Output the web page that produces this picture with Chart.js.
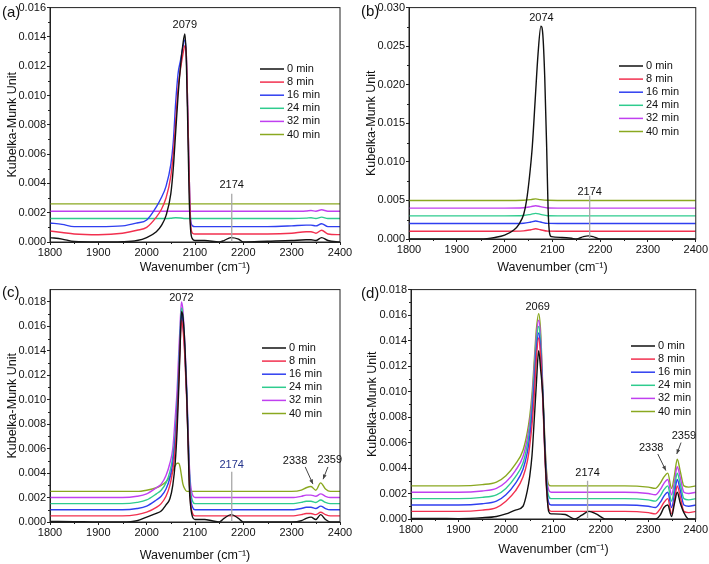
<!DOCTYPE html>
<html>
<head>
<meta charset="utf-8">
<script src="https://cdn.jsdelivr.net/npm/chart.js@4.4.1/dist/chart.umd.min.js"></script>
<style>
  body { margin: 0; background: #fff; }
  .panel { position: absolute; }
</style>
</head>
<body>
<div class="panel" style="left:0;top:0"><canvas id="chartA" width="354" height="282"></canvas></div>
<div class="panel" style="left:354px;top:0"><canvas id="chartB" width="355" height="282"></canvas></div>
<div class="panel" style="left:0;top:282px"><canvas id="chartC" width="354" height="282"></canvas></div>
<div class="panel" style="left:354px;top:282px"><canvas id="chartD" width="355" height="282"></canvas></div>
<script>
const seriesNames = ['0 min', '8 min', '16 min', '24 min', '32 min', '40 min'];
const seriesColors = ['#111111', '#f2304f', '#2f3ff0', '#2ecc8e', '#c040f0', '#8aa820'];
const xTicks = [1800, 1900, 2000, 2100, 2200, 2300, 2400];

// panel (a)
const wnA = [1800, 1825, 1850, 1900, 1950, 1980, 2000, 2020, 2030, 2040, 2050, 2055, 2060, 2065, 2070, 2075, 2079, 2082, 2085, 2088, 2091, 2095, 2100, 2120, 2150, 2160, 2174, 2190, 2200, 2250, 2300, 2330, 2340, 2350, 2362, 2375, 2400];
const a0 = [0.0003, 0.0002, 0.00003, 0, 0.00002, 0.0001, 0.0003, 0.0007, 0.0011, 0.0018, 0.0033, 0.005, 0.0075, 0.01, 0.012, 0.0135, 0.0142, 0.0125, 0.008, 0.003, 0.0008, 0.0002, 0.0001, 0.0001, 0, 0.0001, 0.0003, 0.0002, 0, 0.00005, 0.0001, 0.00015, 0.00015, 0.0001, 0.0003, 0.0001, 0];
const a8 = [0.00075, 0.00065, 0.00055, 0.0005, 0.0006, 0.0008, 0.001, 0.0017, 0.0022, 0.003, 0.0045, 0.006, 0.0082, 0.0105, 0.0118, 0.0128, 0.0134, 0.0128, 0.009, 0.0045, 0.0012, 0.0006, 0.00055, 0.00055, 0.00055, 0.00055, 0.00055, 0.00055, 0.00055, 0.00055, 0.0006, 0.0007, 0.0007, 0.0006, 0.0008, 0.00055, 0.0005];
const a16 = [0.0013, 0.0012, 0.00105, 0.00105, 0.0011, 0.0013, 0.0015, 0.0024, 0.003, 0.0038, 0.0053, 0.0068, 0.0095, 0.0115, 0.0124, 0.0133, 0.0138, 0.0128, 0.009, 0.0045, 0.0015, 0.0011, 0.00105, 0.00105, 0.00105, 0.00105, 0.00105, 0.00105, 0.00105, 0.00105, 0.0011, 0.00115, 0.00115, 0.0011, 0.00125, 0.00105, 0.00105];
const wnA24 = [1800, 2000, 2040, 2050, 2060, 2070, 2080, 2100, 2300, 2330, 2340, 2350, 2362, 2375, 2400];
const a24 = [0.0016, 0.0016, 0.0016, 0.00162, 0.00166, 0.00164, 0.0016, 0.0016, 0.0016, 0.00163, 0.00166, 0.0016, 0.0017, 0.0016, 0.0016];
const wnA32 = [1800, 2300, 2330, 2340, 2350, 2362, 2375, 2400];
const a32 = [0.0021, 0.0021, 0.00212, 0.00215, 0.0021, 0.0022, 0.0021, 0.0021];
const wnA40 = [1800, 2400];
const a40 = [0.0026, 0.0026];

// panel (b)
const wnB = [1800, 1850, 1900, 1950, 1980, 2000, 2020, 2030, 2040, 2046, 2052, 2058, 2064, 2070, 2076, 2080, 2084, 2088, 2091, 2094, 2098, 2120, 2140, 2150, 2165, 2175, 2185, 2200, 2250, 2300, 2350, 2400];
const b0 = [0, 0, 0, 0, 0.0002, 0.0005, 0.0012, 0.0019, 0.0032, 0.005, 0.008, 0.012, 0.018, 0.024, 0.0276, 0.0265, 0.021, 0.012, 0.004, 0.0008, 0.0003, 0.0002, 0.0001, 0, 0.0003, 0.0004, 0.0003, 0, 0, 0, 0, 0];
const wnBflat = [1800, 2000, 2040, 2055, 2065, 2075, 2090, 2120, 2400];
const b8 = [0.001, 0.001, 0.00105, 0.0012, 0.00133, 0.0012, 0.00102, 0.001, 0.001];
const b16 = [0.002, 0.002, 0.00205, 0.0022, 0.00233, 0.0022, 0.00202, 0.002, 0.002];
const b24 = [0.003, 0.003, 0.00305, 0.0032, 0.00332, 0.0032, 0.00302, 0.003, 0.003];
const b32 = [0.004, 0.004, 0.00405, 0.0042, 0.00432, 0.0042, 0.00402, 0.004, 0.004];
const b40 = [0.005, 0.005, 0.00503, 0.0051, 0.0052, 0.0051, 0.00502, 0.005, 0.005];

// panel (c)
const wnC = [1800, 1850, 1900, 1950, 1980, 2000, 2020, 2030, 2040, 2048, 2054, 2059, 2063, 2066, 2069, 2072, 2075, 2079, 2083, 2086, 2088, 2091, 2095, 2100, 2120, 2135, 2150, 2160, 2175, 2190, 2200, 2250, 2300, 2320, 2330, 2340, 2350, 2360, 2370, 2380, 2400];
const c0 = [0.00005, 0.00003, 0, 0, 0.0001, 0.0004, 0.0007, 0.0009, 0.0014, 0.0019, 0.003, 0.0048, 0.0075, 0.0105, 0.014, 0.0172, 0.0168, 0.0145, 0.0102, 0.006, 0.003, 0.0013, 0.0004, 0.0002, 0.0002, 0.0001, 0, 0.0003, 0.0006, 0.0003, 0, 0, 0, 0.0001, 0.0003, 0.0004, 0.0002, 0.0006, 0.0002, 0, 0];
const c8 = [0.0005, 0.0005, 0.0005, 0.0005, 0.0006, 0.0008, 0.0012, 0.0015, 0.0021, 0.003, 0.0042, 0.006, 0.0085, 0.0112, 0.0142, 0.0165, 0.0158, 0.0135, 0.0098, 0.0062, 0.0036, 0.0015, 0.0007, 0.0005, 0.0005, 0.0005, 0.0005, 0.0005, 0.0005, 0.0005, 0.0005, 0.0005, 0.0005, 0.0006, 0.0007, 0.0007, 0.0006, 0.0008, 0.0006, 0.0005, 0.0005];
const c16 = [0.001, 0.001, 0.001, 0.001, 0.0011, 0.0013, 0.0018, 0.0021, 0.0027, 0.0036, 0.0048, 0.0067, 0.0092, 0.0118, 0.0148, 0.017, 0.0164, 0.0138, 0.0102, 0.0066, 0.0042, 0.002, 0.0012, 0.001, 0.001, 0.001, 0.001, 0.001, 0.001, 0.001, 0.001, 0.001, 0.001, 0.0011, 0.0012, 0.0012, 0.0011, 0.0013, 0.0011, 0.001, 0.001];
const c24 = [0.0015, 0.0015, 0.0015, 0.0015, 0.0016, 0.0018, 0.0023, 0.0026, 0.0032, 0.0041, 0.0053, 0.0072, 0.0097, 0.0123, 0.0153, 0.0175, 0.0168, 0.0141, 0.0105, 0.0069, 0.0046, 0.0025, 0.0017, 0.0015, 0.0015, 0.0015, 0.0015, 0.0015, 0.0015, 0.0015, 0.0015, 0.0015, 0.0015, 0.0016, 0.0017, 0.0017, 0.0016, 0.0018, 0.0016, 0.0015, 0.0015];
const c32 = [0.002, 0.002, 0.002, 0.002, 0.0021, 0.0023, 0.0028, 0.0031, 0.0038, 0.0048, 0.006, 0.0085, 0.0108, 0.0135, 0.016, 0.018, 0.0173, 0.0145, 0.011, 0.0072, 0.0049, 0.003, 0.0022, 0.002, 0.002, 0.002, 0.002, 0.002, 0.002, 0.002, 0.002, 0.002, 0.002, 0.0021, 0.0022, 0.0022, 0.0021, 0.0023, 0.0021, 0.002, 0.002];
const c40 = [0.0025, 0.0025, 0.0025, 0.0025, 0.0025, 0.0026, 0.0028, 0.003, 0.0033, 0.0037, 0.0042, 0.0046, 0.0048, 0.0048, 0.0045, 0.0038, 0.0031, 0.0027, 0.0025, 0.0025, 0.0025, 0.0025, 0.0025, 0.0025, 0.0025, 0.0025, 0.0025, 0.0025, 0.0025, 0.0025, 0.0025, 0.0025, 0.0025, 0.0026, 0.0028, 0.0029, 0.0026, 0.0032, 0.0027, 0.0025, 0.0025];

// panel (d)
const wnD = [1800, 1850, 1900, 1950, 1980, 2000, 2020, 2036, 2045, 2050, 2055, 2060, 2064, 2069, 2073, 2078, 2082, 2086, 2090, 2095, 2100, 2125, 2145, 2160, 2175, 2190, 2210, 2250, 2300, 2315, 2325, 2333, 2341, 2349, 2355, 2361, 2367, 2375, 2385, 2400];
const d0 = [0.00005, 0.00005, 0.00003, 0.0001, 0.0002, 0.0004, 0.0007, 0.001, 0.0022, 0.0033, 0.005, 0.008, 0.0105, 0.0132, 0.0118, 0.0095, 0.0055, 0.0023, 0.0006, 0.0004, 0.0004, 0.00035, 0, 0.0003, 0.0006, 0.0004, 0, 0, 0, 0, 0.0003, 0.0009, 0.0011, 0.0002, 0.0012, 0.0021, 0.0013, 0.0005, 0, 0];
const d8 = [0.0006, 0.0006, 0.0006, 0.0007, 0.0009, 0.0014, 0.0022, 0.0033, 0.0045, 0.0057, 0.0074, 0.0099, 0.0125, 0.0142, 0.0128, 0.009, 0.005, 0.0021, 0.0008, 0.0006, 0.0006, 0.0006, 0.0006, 0.0006, 0.0006, 0.0006, 0.0006, 0.0006, 0.0005, 0.0004, 0.0008, 0.0013, 0.0016, 0.0004, 0.0014, 0.0026, 0.0018, 0.0006, 0.0005, 0.0006];
const d16 = [0.0011, 0.0011, 0.0011, 0.0012, 0.0014, 0.0019, 0.0028, 0.0039, 0.0052, 0.0064, 0.0082, 0.0108, 0.0132, 0.0146, 0.0133, 0.0094, 0.0053, 0.0025, 0.0013, 0.0011, 0.0011, 0.0011, 0.0011, 0.0011, 0.0011, 0.0011, 0.0011, 0.0011, 0.001, 0.0009, 0.0013, 0.0018, 0.0021, 0.0009, 0.0019, 0.0031, 0.0023, 0.0011, 0.001, 0.0011];
const d24 = [0.0016, 0.0016, 0.0016, 0.0017, 0.0019, 0.0024, 0.0033, 0.0044, 0.0058, 0.007, 0.0088, 0.0115, 0.0138, 0.0151, 0.0138, 0.0096, 0.0056, 0.0029, 0.0018, 0.0016, 0.0016, 0.0016, 0.0016, 0.0016, 0.0016, 0.0016, 0.0016, 0.0016, 0.0015, 0.0014, 0.0018, 0.0023, 0.0026, 0.0014, 0.0024, 0.0036, 0.0028, 0.0016, 0.0015, 0.0016];
const d32 = [0.0021, 0.0021, 0.0021, 0.0022, 0.0024, 0.0029, 0.0038, 0.0049, 0.0063, 0.0075, 0.0093, 0.0121, 0.0143, 0.0156, 0.0143, 0.0098, 0.0059, 0.0033, 0.0023, 0.0021, 0.0021, 0.0021, 0.0021, 0.0021, 0.0021, 0.0021, 0.0021, 0.0021, 0.002, 0.0019, 0.0023, 0.0028, 0.0031, 0.0019, 0.0029, 0.0041, 0.0033, 0.0021, 0.002, 0.0021];
const d40 = [0.0026, 0.0026, 0.0026, 0.0027, 0.0029, 0.0034, 0.0043, 0.0054, 0.0068, 0.008, 0.0098, 0.0126, 0.0148, 0.0161, 0.0148, 0.01, 0.0062, 0.0036, 0.0027, 0.0026, 0.0026, 0.0026, 0.0026, 0.0026, 0.0026, 0.0026, 0.0026, 0.0026, 0.0025, 0.0024, 0.0028, 0.0033, 0.0036, 0.0024, 0.0034, 0.0047, 0.0038, 0.0026, 0.0025, 0.0026];

const FONT = "'Liberation Sans', Arial, sans-serif";
const AXIS = '#222222';

function pts(xs, ys) {
  return xs.map((x, i) => ({ x: x, y: ys[i] }));
}

// frame, minor ticks, legend and peak labels
const decor = {
  id: 'decor',
  afterDraw(chart, args, opts) {
    const ctx = chart.ctx;
    const ca = chart.chartArea;
    const xs = chart.scales.x;
    const ys = chart.scales.y;
    ctx.save();

    ctx.strokeStyle = AXIS;
    ctx.lineWidth = 1;
    ctx.strokeRect(ca.left, ca.top, ca.right - ca.left, ca.bottom - ca.top);

    // minor ticks
    ctx.beginPath();
    for (let v = xs.min + 50; v < xs.max; v += 100) {
      const px = Math.round(xs.getPixelForValue(v)) + 0.5;
      ctx.moveTo(px, ca.bottom);
      ctx.lineTo(px, ca.bottom + 2);
    }
    for (let v = opts.yMinor / 2; v < ys.max; v += opts.yMinor) {
      const py = Math.round(ys.getPixelForValue(v)) + 0.5;
      ctx.moveTo(ca.left, py);
      ctx.lineTo(ca.left - 2, py);
    }
    ctx.stroke();

    // legend
    ctx.font = '11px ' + FONT;
    ctx.textBaseline = 'middle';
    ctx.textAlign = 'left';
    chart.data.datasets.forEach((ds, i) => {
      const y = opts.legend.y + i * 13.1;
      ctx.strokeStyle = ds.borderColor;
      ctx.lineWidth = 1.5;
      ctx.beginPath();
      ctx.moveTo(opts.legend.x, y);
      ctx.lineTo(opts.legend.x + 24, y);
      ctx.stroke();
      ctx.fillStyle = '#111';
      ctx.fillText(ds.label, opts.legend.x + 27, y);
    });

    // gray marker lines
    ctx.strokeStyle = '#a8a8a8';
    ctx.lineWidth = 1.3;
    opts.vlines.forEach(l => {
      const px = xs.getPixelForValue(l.x);
      ctx.beginPath();
      ctx.moveTo(px, ys.getPixelForValue(l.y1));
      ctx.lineTo(px, ys.getPixelForValue(l.y2));
      ctx.stroke();
    });

    // arrows
    ctx.strokeStyle = '#444';
    ctx.fillStyle = '#444';
    ctx.lineWidth = 1;
    opts.arrows.forEach(a => {
      const x1 = xs.getPixelForValue(a.x1), y1 = ys.getPixelForValue(a.y1);
      const x2 = xs.getPixelForValue(a.x2), y2 = ys.getPixelForValue(a.y2);
      const ang = Math.atan2(y2 - y1, x2 - x1);
      ctx.beginPath();
      ctx.moveTo(x1, y1);
      ctx.lineTo(x2, y2);
      ctx.stroke();
      ctx.beginPath();
      ctx.moveTo(x2, y2);
      ctx.lineTo(x2 - 5 * Math.cos(ang - 0.4), y2 - 5 * Math.sin(ang - 0.4));
      ctx.lineTo(x2 - 5 * Math.cos(ang + 0.4), y2 - 5 * Math.sin(ang + 0.4));
      ctx.closePath();
      ctx.fill();
    });

    // peak labels
    ctx.textAlign = 'center';
    opts.labels.forEach(l => {
      ctx.fillStyle = l.color || '#111';
      ctx.fillText(l.text, xs.getPixelForValue(l.x), ys.getPixelForValue(l.y));
    });

    // panel letter
    ctx.font = '15px ' + FONT;
    ctx.textAlign = 'left';
    ctx.fillStyle = '#111';
    ctx.fillText(opts.letter.text, opts.letter.x, opts.letter.y);

    ctx.restore();
  }
};

function makePanel(id, panel) {
  const datasets = panel.series.map((s, i) => ({
    label: seriesNames[i],
    data: pts(s[0], s[1]),
    borderColor: seriesColors[i],
    borderWidth: 1.4,
    pointRadius: 0,
    cubicInterpolationMode: 'monotone',
    fill: false
  }));

  const ctx = document.getElementById(id).getContext('2d');
  return new Chart(ctx, {
    type: 'line',
    data: { datasets: datasets },
    options: {
      responsive: false,
      animation: false,
      layout: { padding: { left: 0, right: panel.padRight, top: 6, bottom: 0 } },
      plugins: {
        legend: { display: false },
        tooltip: { enabled: false },
        decor: panel.decor
      },
      scales: {
        x: {
          type: 'linear',
          min: 1800,
          max: 2400,
          afterBuildTicks: scale => { scale.ticks = xTicks.map(v => ({ value: v })); },
          afterFit: scale => { scale.height = panel.xHeight; },
          grid: { drawOnChartArea: false, tickLength: 3, color: AXIS, tickColor: AXIS },
          border: { color: AXIS },
          ticks: { font: { family: FONT, size: 11 }, color: '#111', padding: 1, maxRotation: 0, callback: v => String(v) },
          title: { display: true, text: 'Wavenumber (cm\u207B\u00B9)', font: { family: FONT, size: 12.5 }, color: '#111', padding: { top: 0, bottom: panel.xTitlePad } }
        },
        y: {
          min: 0,
          max: panel.yMax,
          afterFit: scale => { scale.width = panel.yWidth; },
          grid: { drawOnChartArea: false, tickLength: 3, color: AXIS, tickColor: AXIS },
          border: { color: AXIS },
          ticks: { stepSize: panel.yStep, includeBounds: false, font: { family: FONT, size: 11 }, color: '#111', padding: 1, callback: v => v.toFixed(3) },
          title: { display: true, text: 'Kubelka-Munk Unit', font: { family: FONT, size: 12.5 }, color: '#111', padding: { top: panel.yTitlePad, bottom: 0 } }
        }
      }
    },
    plugins: [decor]
  });
}

document.addEventListener('DOMContentLoaded', function () {

  makePanel('chartA', {
    series: [[wnA, a0], [wnA, a8], [wnA, a16], [wnA24, a24], [wnA32, a32], [wnA40, a40]],
    yMax: 0.016, yStep: 0.002, yWidth: 50, padRight: 14, xHeight: 40, xTitlePad: 7, yTitlePad: 5,
    decor: {
      yMinor: 0.002,
      legend: { x: 260, y: 69 },
      letter: { text: '(a)', x: 2, y: 13 },
      labels: [{ text: '2079', x: 2079, y: 0.0148 }, { text: '2174', x: 2176, y: 0.0039 }],
      vlines: [{ x: 2176, y1: 0.0033, y2: 0 }],
      arrows: []
    }
  });

  makePanel('chartB', {
    series: [[wnB, b0], [wnBflat, b8], [wnBflat, b16], [wnBflat, b24], [wnBflat, b32], [wnBflat, b40]],
    yMax: 0.030, yStep: 0.005, yWidth: 55, padRight: 12, xHeight: 43, xTitlePad: 7, yTitlePad: 10,
    decor: {
      yMinor: 0.005,
      legend: { x: 265, y: 66 },
      letter: { text: '(b)', x: 7, y: 12 },
      labels: [{ text: '2074', x: 2077, y: 0.0287 }, { text: '2174', x: 2178, y: 0.0061 }],
      vlines: [{ x: 2178, y1: 0.0056, y2: 0 }],
      arrows: []
    }
  });

  makePanel('chartC', {
    series: [[wnC, c0], [wnC, c8], [wnC, c16], [wnC, c24], [wnC, c32], [wnC, c40]],
    yMax: 0.019, yStep: 0.002, yWidth: 50, padRight: 14, xHeight: 42, xTitlePad: 1, yTitlePad: 5,
    decor: {
      yMinor: 0.002,
      legend: { x: 262, y: 66 },
      letter: { text: '(c)', x: 2, y: 11 },
      labels: [
        { text: '2072', x: 2072, y: 0.0183 },
        { text: '2174', x: 2176, y: 0.0047, color: '#24348c' },
        { text: '2338', x: 2307, y: 0.005 },
        { text: '2359', x: 2379, y: 0.0051 }
      ],
      vlines: [{ x: 2176, y1: 0.0041, y2: 0 }],
      arrows: [
        { x1: 2328, y1: 0.0045, x2: 2344, y2: 0.0031 },
        { x1: 2375, y1: 0.0045, x2: 2365, y2: 0.0035 }
      ]
    }
  });

  makePanel('chartD', {
    series: [[wnD, d0], [wnD, d8], [wnD, d16], [wnD, d24], [wnD, d32], [wnD, d40]],
    yMax: 0.018, yStep: 0.002, yWidth: 57, padRight: 12, xHeight: 45, xTitlePad: 7, yTitlePad: 11,
    decor: {
      yMinor: 0.002,
      legend: { x: 277, y: 64 },
      letter: { text: '(d)', x: 7, y: 12 },
      labels: [
        { text: '2069', x: 2067, y: 0.0166 },
        { text: '2174', x: 2172, y: 0.0036 },
        { text: '2338', x: 2306, y: 0.0056 },
        { text: '2359', x: 2375, y: 0.0065 }
      ],
      vlines: [{ x: 2172, y1: 0.003, y2: 0 }],
      arrows: [
        { x1: 2320, y1: 0.0051, x2: 2337, y2: 0.0038 },
        { x1: 2369, y1: 0.006, x2: 2360, y2: 0.0051 }
      ]
    }
  });

});
</script>
</body>
</html>
